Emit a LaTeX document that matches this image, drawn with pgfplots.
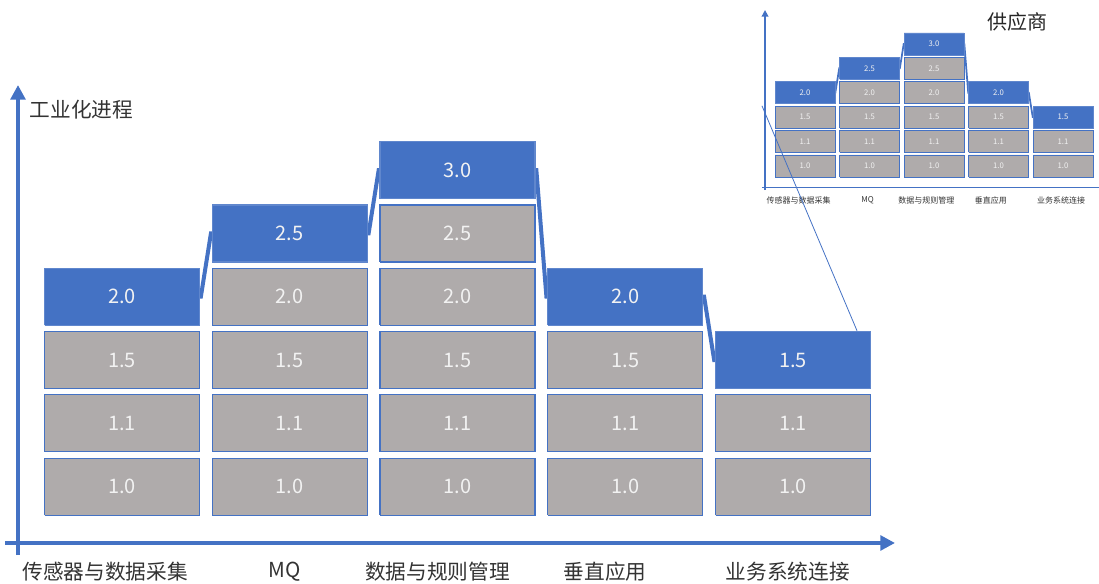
\documentclass[border=0pt]{standalone}
\usepackage{pgfplots}
\pgfplotsset{compat=1.18}
\usepackage{pgfplotstable}
\usepackage{fontspec}
\setmainfont{Noto Sans CJK SC}
\usetikzlibrary{arrows.meta}
\definecolor{blk}{HTML}{4472C4}
\definecolor{gry}{HTML}{AFABAB}
\definecolor{lbl}{HTML}{F2F2F2}

% gray blocks (rectangles, nan separated)
\pgfplotstableread{
x y
0.158 0.44
1.082 0.44
1.082 1.34
0.158 1.34
0.158 0.44
nan nan
0.158 1.44
1.082 1.44
1.082 2.34
0.158 2.34
0.158 1.44
nan nan
0.158 2.44
1.082 2.44
1.082 3.34
0.158 3.34
0.158 2.44
nan nan
1.158 0.44
2.082 0.44
2.082 1.34
1.158 1.34
1.158 0.44
nan nan
1.158 1.44
2.082 1.44
2.082 2.34
1.158 2.34
1.158 1.44
nan nan
1.158 2.44
2.082 2.44
2.082 3.34
1.158 3.34
1.158 2.44
nan nan
1.158 3.44
2.082 3.44
2.082 4.34
1.158 4.34
1.158 3.44
nan nan
2.158 0.44
3.082 0.44
3.082 1.34
2.158 1.34
2.158 0.44
nan nan
2.158 1.44
3.082 1.44
3.082 2.34
2.158 2.34
2.158 1.44
nan nan
2.158 2.44
3.082 2.44
3.082 3.34
2.158 3.34
2.158 2.44
nan nan
2.158 3.44
3.082 3.44
3.082 4.34
2.158 4.34
2.158 3.44
nan nan
2.158 4.44
3.082 4.44
3.082 5.34
2.158 5.34
2.158 4.44
nan nan
3.158 0.44
4.082 0.44
4.082 1.34
3.158 1.34
3.158 0.44
nan nan
3.158 1.44
4.082 1.44
4.082 2.34
3.158 2.34
3.158 1.44
nan nan
3.158 2.44
4.082 2.44
4.082 3.34
3.158 3.34
3.158 2.44
nan nan
4.158 0.44
5.082 0.44
5.082 1.34
4.158 1.34
4.158 0.44
nan nan
4.158 1.44
5.082 1.44
5.082 2.34
4.158 2.34
4.158 1.44
}\grayblocks

% blue (top) blocks
\pgfplotstableread{
x y
0.158 3.44
1.082 3.44
1.082 4.34
0.158 4.34
0.158 3.44
nan nan
1.158 4.44
2.082 4.44
2.082 5.34
1.158 5.34
1.158 4.44
nan nan
2.158 5.44
3.082 5.44
3.082 6.34
2.158 6.34
2.158 5.44
nan nan
3.158 3.44
4.082 3.44
4.082 4.34
3.158 4.34
3.158 3.44
nan nan
4.158 2.44
5.082 2.44
5.082 3.34
4.158 3.34
4.158 2.44
}\blueblocks

% block labels
\pgfplotstableread{
x y lab
0.62 0.89 1.0
0.62 1.89 1.1
0.62 2.89 1.5
0.62 3.89 2.0
1.62 0.89 1.0
1.62 1.89 1.1
1.62 2.89 1.5
1.62 3.89 2.0
1.62 4.89 2.5
2.62 0.89 1.0
2.62 1.89 1.1
2.62 2.89 1.5
2.62 3.89 2.0
2.62 4.89 2.5
2.62 5.89 3.0
3.62 0.89 1.0
3.62 1.89 1.1
3.62 2.89 1.5
3.62 3.89 2.0
4.62 0.89 1.0
4.62 1.89 1.1
4.62 2.89 1.5
}\labels

% connecting line through top blocks
\pgfplotstableread{
x y
0.62 3.89
1.09 3.89
1.15 4.89
2.09 4.89
2.15 5.89
3.09 5.89
3.15 3.89
4.09 3.89
4.15 2.89
4.62 2.89
}\conn

\begin{document}
\begin{tikzpicture}
\useasboundingbox (0,0) rectangle (824.25pt,437.25pt);
% ---------- main chart ----------
\begin{axis}[
  at={(3.75pt,21pt)}, anchor=south west,
  width=667.5pt, height=352.5pt, scale only axis,
  xmin=-0.0775, xmax=5.228, ymin=-0.19, ymax=7.235,
  axis lines=middle,
  axis line style={draw=blk, line width=3.5pt},
  every inner x axis line/.append style={-{Triangle[width=11pt,length=11pt]}},
  every inner y axis line/.append style={-{Triangle[width=11pt,length=11pt]}},
  xtick={0.52,1.59,2.5,3.5,4.59},
  xticklabels={传感器与数据采集,MQ,数据与规则管理,垂直应用,业务系统连接},
  ytick=\empty,
  major tick length=0pt,
  xticklabel style={font=\fontsize{15.5}{18}\selectfont, text=black!80, yshift=-11pt},
  clip=false,
  unbounded coords=jump,
]
\addplot[blk, line width=3pt, mark=none] table {\conn};
\addplot[fill=gry, draw=blk, line width=0.9pt, mark=none] table {\grayblocks};
\addplot[fill=blk, draw=blk!85!white, line width=0.9pt, mark=none] table {\blueblocks};
\addplot[draw=none, mark=none, nodes near coords, point meta=explicit symbolic,
  nodes near coords style={anchor=center, font=\fontsize{15}{18}\selectfont, text=lbl}]
  table[meta=lab] {\labels};
\node[font=\fontsize{15.5}{18}\selectfont, text=black!80] at (axis cs:0.379,6.84) {工业化进程};
\end{axis}
% ---------- inset (scaled copy) ----------
\begin{axis}[
  at={(571.5pt,294.75pt)}, anchor=south west,
  width=263.5pt, height=135pt, scale only axis,
  xmin=-0.047, xmax=5.4, ymin=-0.1, ymax=7.28,
  axis lines=middle,
  axis line style={draw=blk, line width=1.3pt},
  every inner x axis line/.append style={-{Triangle[width=5pt,length=5pt]}},
  every inner y axis line/.append style={-{Triangle[width=5pt,length=5pt]}},
  xtick={0.52,1.59,2.5,3.5,4.59},
  xticklabels={传感器与数据采集,MQ,数据与规则管理,垂直应用,业务系统连接},
  ytick=\empty,
  major tick length=0pt,
  xticklabel style={font=\fontsize{6}{7}\selectfont, text=black!80, yshift=-3.5pt},
  clip=false,
  unbounded coords=jump,
]
\addplot[blk, line width=1.3pt, mark=none] table {\conn};
\addplot[fill=gry, draw=blk, line width=0.4pt, mark=none] table {\grayblocks};
\addplot[fill=blk, draw=blk!85!white, line width=0.4pt, mark=none] table {\blueblocks};
\addplot[draw=none, mark=none, nodes near coords, point meta=explicit symbolic,
  nodes near coords style={anchor=center, font=\fontsize{5.8}{7}\selectfont, text=lbl}]
  table[meta=lab] {\labels};
\node[font=\fontsize{15}{18}\selectfont, text=black!85] at (axis cs:3.92,6.79) {供应商};
\draw[blk, line width=0.6pt] (axis cs:-0.047,3.35) -- (axis cs:1.426,-5.87);
\end{axis}
\end{tikzpicture}
\end{document}
